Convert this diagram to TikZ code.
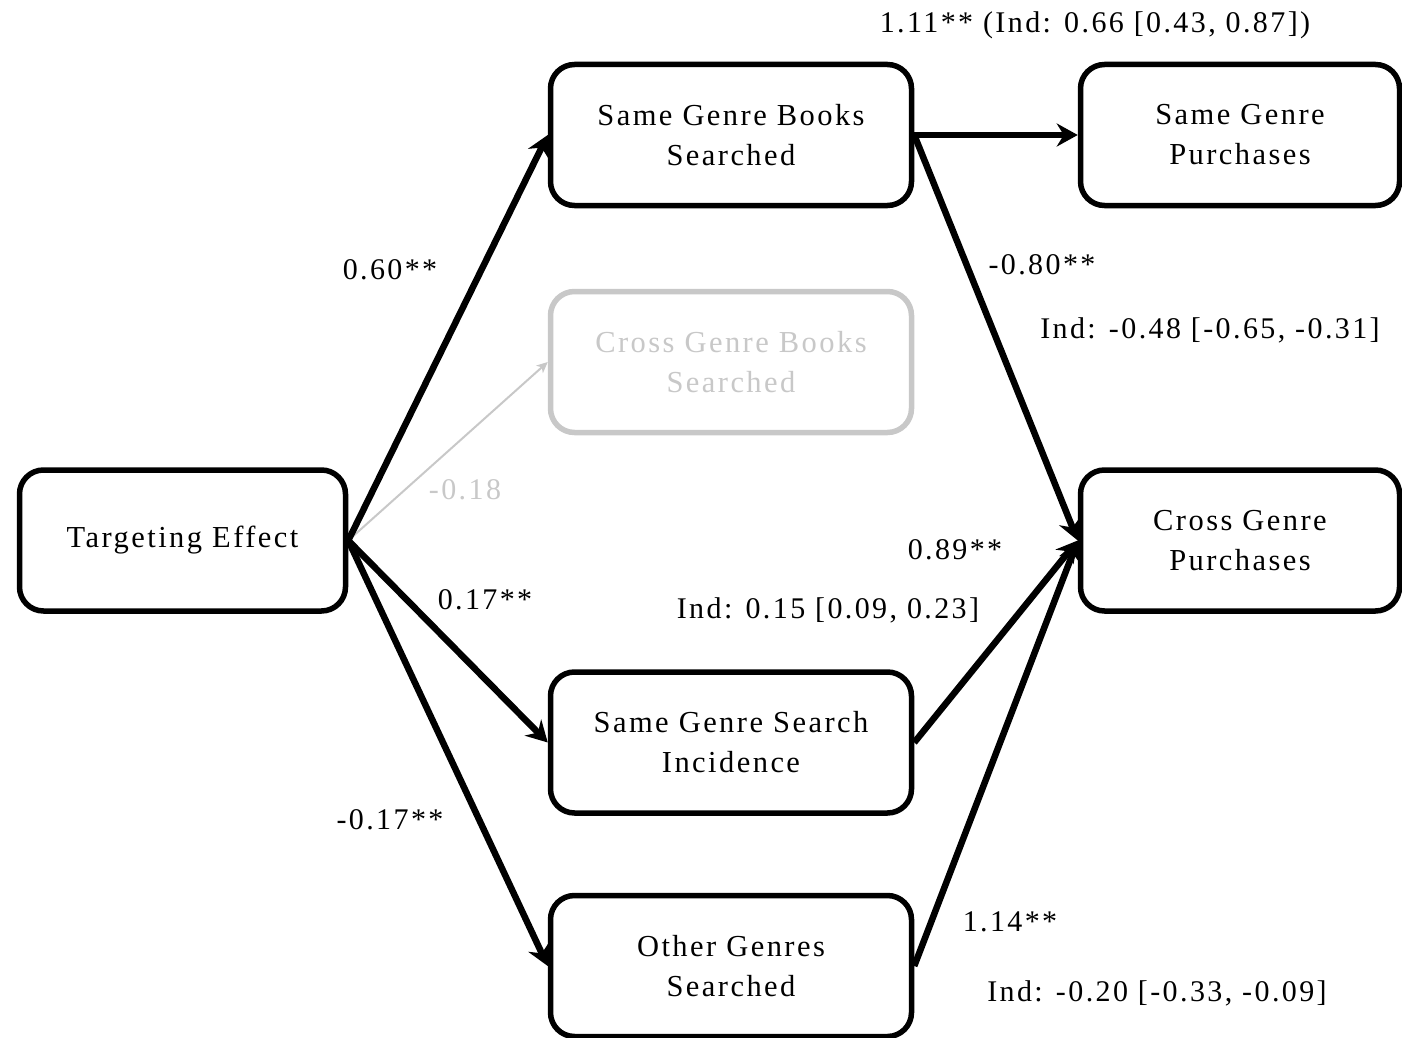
\documentclass[tikz,border=0pt]{standalone}
\usepackage{fontspec}
\setmainfont{Liberation Serif}[LetterSpace=8]
\usetikzlibrary{arrows.meta}
\definecolor{faded}{RGB}{200,200,200}
\begin{document}
\begin{tikzpicture}[scale=1.000000,x=1pt,y=-1pt,
  box/.style={draw,line width=5.5pt,rounded corners=24pt,fill=white,minimum height=141pt,align=center,font=\fontsize{30.5}{40}\selectfont},
  wide/.style={box,minimum width=361pt},
  path/.style={line width=6.5pt,-{Stealth[length=21pt,width=23pt,inset=7pt]}},
  weak/.style={line width=2pt,color=faded,-{Stealth[length=11pt,width=10pt,inset=3pt]}},
  coef/.style={font=\fontsize{30}{36}\selectfont,inner sep=0pt}]
\useasboundingbox (0.000000,0.000000) rectangle (1402.000000,1038.000000);
% Drawing boxes
% Column 1: predictor
\node[box,minimum width=326pt] (tgt) at (182.500000,540.500000) {Targeting Effect};
% Column 2: mediators
\node[wide] (sgbs) at (731.000000,135.000000) {Same Genre Books\\Searched};
\node[wide,draw=faded,text=faded] (cgbs) at (731.000000,362.000000) {Cross Genre Books\\Searched};
\node[wide] (sgsi) at (731.000000,742.500000) {Same Genre Search\\Incidence};
\node[wide] (ogs) at (731.000000,966.000000) {Other Genres\\Searched};
% Column 3: outcomes
\node[box,minimum width=319pt] (sgp) at (1240.000000,135.000000) {Same Genre\\Purchases};
\node[box,minimum width=319pt] (cgp) at (1240.000000,540.500000) {Cross Genre\\Purchases};
% Done with boxes; drawing paths
\draw[weak] (tgt.east) -- (cgbs.west);
\draw[path] (tgt.east) -- (sgbs.west);
\draw[path] (tgt.east) -- (sgsi.west);
\draw[path] (tgt.east) -- (ogs.west);
\draw[path] (sgbs.east) -- (sgp.west);
\draw[path] (sgbs.east) -- (cgp.west);
\draw[path] (sgsi.east) -- (cgp.west);
\draw[path] (ogs.east) -- (cgp.west);
% Done with paths; drawing coefficients
\node[coef] (c1) at (1095.000000,25.000000) {1.11** (Ind: 0.66 [0.43, 0.87])};
\node[coef] (c2) at (390.000000,270.000000) {0.60**};
\node[coef] (c3) at (1042.000000,265.000000) {-0.80**};
\node[coef] (c4) at (1210.000000,330.000000) {Ind: -0.48 [-0.65, -0.31]};
\node[coef,text=faded] (c5) at (465.000000,490.000000) {-0.18};
\node[coef] (c6) at (955.000000,550.000000) {0.89**};
\node[coef] (c7) at (485.000000,600.000000) {0.17**};
\node[coef] (c8) at (828.000000,610.000000) {Ind: 0.15 [0.09, 0.23]};
\node[coef] (c9) at (390.000000,820.000000) {-0.17**};
\node[coef] (c10) at (1010.000000,922.000000) {1.14**};
\node[coef] (c11) at (1157.000000,993.000000) {Ind: -0.20 [-0.33, -0.09]};
% Done with coefficients
\end{tikzpicture}
\end{document}
